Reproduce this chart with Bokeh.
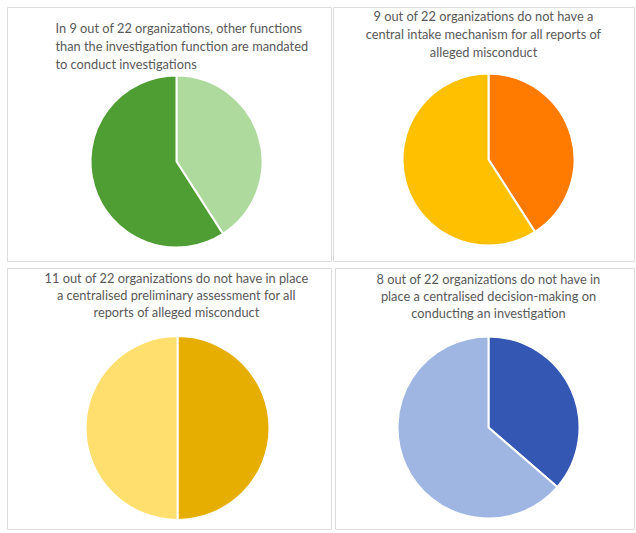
import math
from bokeh.plotting import figure
from bokeh.layouts import column, row
from bokeh.models import Range1d, ColumnDataSource
from bokeh.core.properties import value
from bokeh.embed import file_html
from bokeh.resources import INLINE

# ---- data ----
total = 22
title_1 = ["In 9 out of 22 organizations, other functions",
           "than the investigation function are mandated",
           "to conduct investigations"]
title_2 = ["9 out of 22 organizations do not have a",
           "central intake mechanism for all reports of",
           "alleged misconduct"]
title_3 = ["11 out of 22 organizations do not have in place",
           "a centralised preliminary assessment for all",
           "reports of alleged misconduct"]
title_4 = ["8 out of 22 organizations do not have in",
           "place a centralised decision-making on",
           "conducting an investigation"]
values_1 = [9, 13]
values_2 = [9, 13]
values_3 = [11, 11]
values_4 = [8, 14]
colors_1 = ["#AEDA9D", "#4F9E34"]
colors_2 = ["#FF7B00", "#FFC000"]
colors_3 = ["#E6AE00", "#FFDF6E"]
colors_4 = ["#3457B4", "#9FB6E2"]

FONT = "Lato"
TEXT_COLOR = "#595959"


def panel(w, h, lines, vals, cols, cx, cy, r, tx, ty0, lh, align):
    p = figure(width=w, height=h, output_backend="svg", toolbar_location=None,
               x_range=Range1d(0, w), y_range=Range1d(0, h),
               min_border=0, background_fill_color="white",
               border_fill_color="white")
    p.axis.visible = False
    p.grid.visible = False
    p.outline_line_color = "#DCDCDC"
    p.outline_line_width = 1
    tot = sum(vals)
    starts, ends = [], []
    a = math.pi / 2
    for v in vals:
        starts.append(a)
        a = a - 2 * math.pi * v / tot
        ends.append(a)
    src = ColumnDataSource(dict(start=starts, end=ends, color=cols))
    p.wedge(x=cx, y=h - cy, radius=r, radius_units="screen",
            start_angle="start", end_angle="end", direction="clock",
            fill_color="color", line_color="white", line_width=2, source=src)
    tsrc = ColumnDataSource(dict(
        x=[tx] * len(lines),
        y=[h - (ty0 + i * lh) for i in range(len(lines))],
        text=lines))
    p.text(x="x", y="y", text="text", source=tsrc,
           text_font=value(FONT), text_font_size="12.8px",
           text_color=TEXT_COLOR, text_align=align, text_baseline="middle")
    return p


p1 = panel(325, 255, title_1, values_1, colors_1, 169, 154, 86, 48, 20, 18, "left")
p2 = panel(302, 255, title_2, values_2, colors_2, 155, 152, 86, 150, 8, 18, "center")
p3 = panel(325, 262, title_3, values_3, colors_3, 170, 159.5, 92, 169, 9, 17, "center")
p4 = panel(300, 262, title_4, values_4, colors_4, 153, 159, 91, 153, 10, 17, "center")

layout = column(row(p1, p2, spacing=1), row(p3, p4, spacing=3), spacing=6,
                margin=(7, 0, 0, 7))

open("out.html", "w").write(file_html(layout, INLINE))
